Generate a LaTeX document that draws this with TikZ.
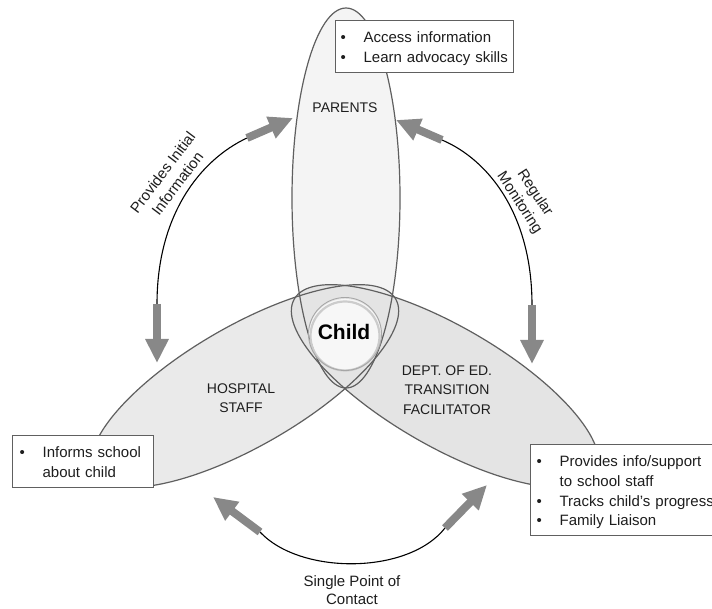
\documentclass[tikz,border=0pt]{standalone}
\usepackage{fontspec}
\setmainfont{Liberation Sans}
\usetikzlibrary{arrows.meta}

\definecolor{arrowgray}{RGB}{136,136,136}
\definecolor{edgegray}{RGB}{95,95,95}
\definecolor{parentfill}{RGB}{244,244,244}
\definecolor{hospfill}{RGB}{234,234,234}
\definecolor{deptfill}{RGB}{228,228,228}
\definecolor{inkgray}{RGB}{30,30,30}

% bullet set in a box of fixed width, and struts for box padding
\newcommand\bul[1][23pt]{\makebox[#1][l]{\textbullet}}
\newcommand\topstrut{\rule{0pt}{22pt}}
\newcommand\botstrut{\rule[-10pt]{0pt}{10pt}}

\begin{document}
\begin{tikzpicture}[x=1pt,y=-1pt,
  blobedge/.style={draw=edgegray, line width=1.2pt},
  flowline/.style={black, line width=1.1pt},
  blockarrow/.style={arrowgray, line width=8pt, -{Triangle[width=22pt,length=24pt]}},
  label/.style={font=\fontsize{14}{19.5}\selectfont, align=center, text=inkgray, inner sep=0pt},
  arclabel/.style={font=\fontsize{15}{18.5}\selectfont, align=center, text=inkgray, inner sep=0pt},
  infobox/.style={draw=gray!75!black, line width=1.2pt, fill=white, anchor=north west,
    align=left, inner ysep=0pt, text=inkgray, font=\fontsize{15}{19.7}\selectfont},
]
\useasboundingbox (0,0) rectangle (712,609);
\clip (0,0) rectangle (712,609);
\fill[white] (0,0) rectangle (712,609);

% ---- the three overlapping roles ----
\fill[parentfill] (346,198) ellipse [x radius=54, y radius=190];
\begin{scope}[shift={(245,386)}, rotate=30]
  \fill[hospfill] (0,0) ellipse [x radius=174, y radius=60];
\end{scope}
\begin{scope}[shift={(445,386)}, rotate=-30]
  \fill[deptfill] (0,0) ellipse [x radius=174, y radius=60];
\end{scope}
\fill[gray!6] (345,335) circle [radius=36];

\draw[blobedge] (346,198) ellipse [x radius=54, y radius=190];
\begin{scope}[shift={(245,386)}, rotate=30]
  \draw[blobedge] (0,0) ellipse [x radius=174, y radius=60];
\end{scope}
\begin{scope}[shift={(445,386)}, rotate=-30]
  \draw[blobedge] (0,0) ellipse [x radius=174, y radius=60];
\end{scope}

% child at the centre
\draw[gray!40, line width=2.2pt] (345,336) circle [radius=34.5];
\draw[gray!70, line width=0.9pt] (345,334) circle [radius=36.5];
\node[font=\bfseries\fontsize{21}{24}\selectfont, text=black, inner sep=0pt] (child) at (344,332) {Child};

% ---- role labels ----
\node[label] (parents) at (345,108) {PARENTS};
\node[label] (hospital) at (241,398) {HOSPITAL\\STAFF};
\node[label] (dept) at (447,390) {DEPT. OF ED.\\TRANSITION\\FACILITATOR};

% ---- relationship arcs ----
\coordinate (L1s) at (157,304);
\coordinate (L1t) at (157,363);
\coordinate (L2s) at (247,138);
\coordinate (L2t) at (293,118);
\coordinate (R1s) at (442,140);
\coordinate (R1t) at (396,120);
\coordinate (R2s) at (532,305);
\coordinate (R2t) at (532,364);
\coordinate (B1s) at (260,532);
\coordinate (B1t) at (213,497);
\coordinate (B2s) at (445,528);
\coordinate (B2t) at (487,485);

\draw[flowline] (L1s) .. controls (157,215) and (200,160) .. (L2s);
\draw[flowline] (R1s) .. controls (489,160) and (532,215) .. (R2s);
\draw[flowline] (B1s) .. controls (300,575) and (408,575) .. (B2s);

\draw[blockarrow] (L1s) -- (L1t);
\draw[blockarrow] (L2s) -- (L2t);
\draw[blockarrow] (R1s) -- (R1t);
\draw[blockarrow] (R2s) -- (R2t);
\draw[blockarrow] (B1s) -- (B1t);
\draw[blockarrow] (B2s) -- (B2t);

\node[arclabel, rotate=53] (provides) at (170,178) {Provides Initial\\Information};
\node[arclabel, rotate=-57] (monitor) at (527,198) {Regular\\Monitoring};
\node[arclabel] (contact) at (352,590) {Single Point of\\Contact};

% ---- responsibility boxes ----
\node[infobox, inner xsep=5pt, text width=168pt] (parentbox) at (335,20)
  {\topstrut\bul Access information\\
   \bul Learn advocacy skills\botstrut};
\node[infobox, inner xsep=7pt, text width=127pt] (hospbox) at (12,435)
  {\topstrut\bul Informs school\\
   \hspace*{23pt}about child\botstrut};
\node[infobox, inner xsep=6pt, text width=190pt] (deptbox) at (530,444)
  {\topstrut\bul Provides info/support\\
   \hspace*{23pt}to school staff\\
   \bul Tracks child's progress\\
   \bul Family Liaison\botstrut};
\end{tikzpicture}
\end{document}
